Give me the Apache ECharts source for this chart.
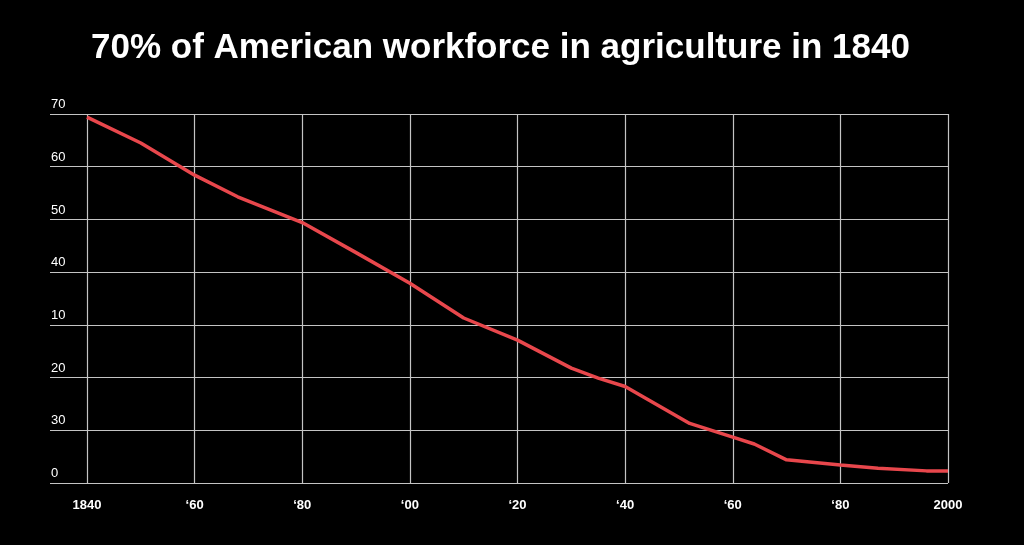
<!DOCTYPE html>
<html>
<head>
<meta charset="utf-8">
<title>American workforce in agriculture</title>
<script src="https://cdn.jsdelivr.net/npm/echarts@6/dist/echarts.min.js"></script>
<style>
    html, body { margin: 0; padding: 0; background: #000; }
    #chart { width: 1024px; height: 545px; }
</style>
</head>
<body>
<div id="chart"></div>
<script>
// years and share of workforce in agriculture (%)
var years = [1840, 1850, 1860, 1868, 1880, 1890, 1900, 1910, 1920, 1930, 1935, 1940, 1952, 1960, 1964, 1970, 1980, 1987, 1996, 2000];
var shares = [69.4, 64.5, 58.4, 54.3, 49.4, 43.7, 37.9, 31.3, 27.1, 21.8, 19.9, 18.3, 11.3, 8.7, 7.4, 4.4, 3.4, 2.8, 2.3, 2.3];

// tick labels as printed in the original (y labels are out of order there)
var yTickLabels = ["0", "30", "20", "10", "40", "50", "60", "70"];
var xTickLabels = ["1840", "\u201860", "\u201880", "\u201800", "\u201820", "\u201840", "\u201860", "\u201880", "2000"];

var gridColor = "#c4c4c4";
var lineColor = "#e8474c";

var chart = echarts.init(document.getElementById("chart"));

var points = [];
for (var i = 0; i < years.length; i++) {
    points.push([years[i], shares[i]]);
}

var option = {
    backgroundColor: "#000",
    animation: false,
    title: {
        text: "70% of American workforce in agriculture in 1840",
        left: 86,
        top: 26,
        textStyle: {
            color: "#fff",
            fontSize: 35,
            fontWeight: "bold",
            fontFamily: "Liberation Sans, Arial, sans-serif"
        }
    },
    grid: [
        { left: 50, right: 76, top: 114, bottom: 62 }, // horizontal lines run wider
        { left: 87, right: 76, top: 114, bottom: 62 }  // data area
    ],
    xAxis: [{
        gridIndex: 0,
        type: "value",
        min: 0,
        max: 1,
        show: false
    }, {
        gridIndex: 1,
        type: "value",
        min: 1840,
        max: 2000,
        interval: 20,
        axisLine: { show: false },
        axisTick: { show: false },
        splitLine: { show: true, lineStyle: { color: gridColor, width: 1.2 } },
        axisLabel: {
            color: "#fff",
            fontSize: 13,
            fontWeight: "bold",
            fontFamily: "Liberation Sans, Arial, sans-serif",
            margin: 16,
            formatter: function (v) {
                return xTickLabels[Math.round((v - 1840) / 20)];
            }
        }
    }],
    yAxis: [{
        gridIndex: 0,
        type: "value",
        min: 0,
        max: 70,
        interval: 10,
        axisLine: { show: false },
        axisTick: { show: false },
        splitLine: { show: true, lineStyle: { color: gridColor, width: 1.2 } },
        axisLabel: {
            inside: true,
            margin: 1,
            verticalAlign: "bottom",
            padding: [0, 0, 3, 0],
            color: "#fff",
            fontSize: 13,
            fontFamily: "Liberation Sans, Arial, sans-serif",
            formatter: function (v) {
                return yTickLabels[Math.round(v / 10)];
            }
        }
    }, {
        gridIndex: 1,
        type: "value",
        min: 0,
        max: 70,
        show: false
    }],
    series: [{
        name: "agriculture",
        type: "line",
        xAxisIndex: 1,
        yAxisIndex: 1,
        data: points,
        symbol: "none",
        lineStyle: { color: lineColor, width: 3.5 }
    }]
};
chart.setOption(option);
</script>
</body>
</html>
